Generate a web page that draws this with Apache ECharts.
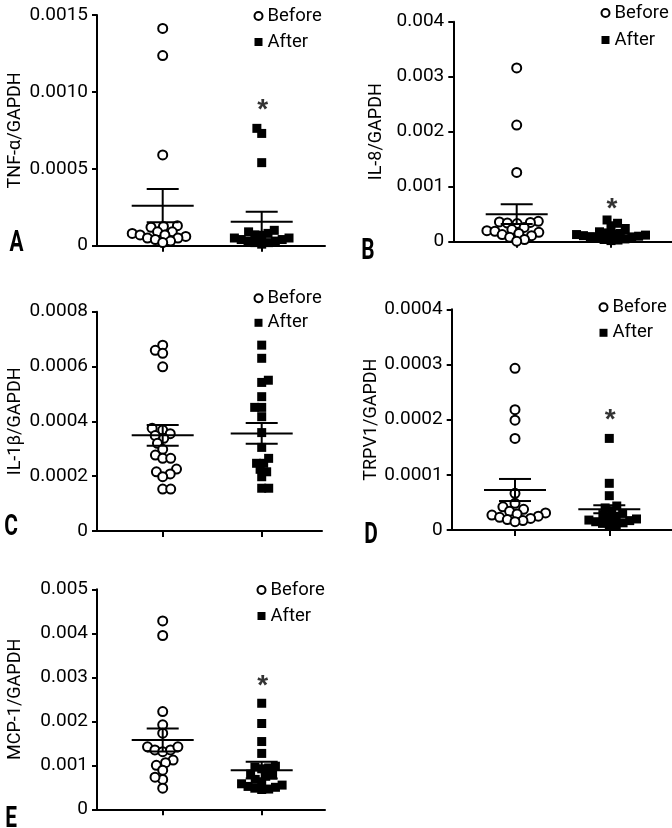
<!DOCTYPE html>
<html>
<head>
<meta charset="utf-8">
<script src="https://cdn.jsdelivr.net/npm/echarts@6/dist/echarts.min.js"></script>
<style>
html,body{margin:0;padding:0;background:#fff;}
#chart{width:672px;height:828px;}
</style>
</head>
<body>
<div id="chart"></div>
<script>
// ---------------- data ----------------
const categories = ['Before', 'After'];
const panelLetters = ['A', 'B', 'C', 'D', 'E'];
const yTitles = ['TNF-α/GAPDH', 'IL-8/GAPDH', 'IL-1β/GAPDH', 'TRPV1/GAPDH', 'MCP-1/GAPDH'];
const yMax = [0.0015, 0.004, 0.0008, 0.0004, 0.005];
const yStep = [0.0005, 0.001, 0.0002, 0.0001, 0.001];
const tickLabelsA = ['0', '0.0005', '0.0010', '0.0015'];
const tickLabelsB = ['0', '0.001', '0.002', '0.003', '0.004'];
const tickLabelsC = ['0', '0.0002', '0.0004', '0.0006', '0.0008'];
const tickLabelsD = ['0', '0.0001', '0.0002', '0.0003', '0.0004'];
const tickLabelsE = ['0', '0.001', '0.002', '0.003', '0.004', '0.005'];

const beforeA = [0.001413, 0.001236, 0.00059, 0.00013, 0.000125, 0.00012, 0.00009, 0.00009, 0.00008, 0.00007, 0.00007, 0.00006, 0.00005, 0.00005, 0.00004, 0.00003, 0.00002];
const afterA = [0.000763, 0.00073, 0.00054, 0.0001, 0.00009, 0.00008, 0.00007, 0.00006, 0.00005, 0.00005, 0.00004, 0.00004, 0.00003, 0.00003, 0.00002, 0.00002, 0.00001];
const beforeB = [0.00316, 0.00212, 0.00126, 0.00037, 0.00036, 0.00035, 0.00034, 0.00033, 0.00026, 0.00022, 0.0002, 0.00019, 0.00017, 0.00015, 0.00013, 0.00011, 0.00008, 0.00004, 0.00001];
const afterB = [0.000395, 0.000335, 0.00029, 0.00024, 0.00018, 0.00016, 0.00015, 0.00014, 0.00013, 0.00012, 0.00011, 0.0001, 0.00009, 0.00008, 0.00006, 0.00005, 0.00004, 0.00003, 0.00002];
const beforeC = [0.000678, 0.000659, 0.000648, 0.000599, 0.000375, 0.000368, 0.000355, 0.000348, 0.000338, 0.00032, 0.000298, 0.000277, 0.000265, 0.000265, 0.000226, 0.000216, 0.000208, 0.000198, 0.000153, 0.000153];
const afterC = [0.000678, 0.00063, 0.00055, 0.000542, 0.00049, 0.000451, 0.000451, 0.000417, 0.000359, 0.000305, 0.000265, 0.000247, 0.000247, 0.000225, 0.000216, 0.000198, 0.000156, 0.000156];
const beforeD = [0.000293, 0.000218, 0.000199, 0.000166, 0.0000665, 0.0000484, 0.000042, 0.0000375, 0.000034, 0.000031, 0.000029, 0.000027, 0.000025, 0.000023, 0.000021, 0.000019, 0.000017, 0.000015];
const afterD = [0.000166, 0.0000846, 0.0000622, 0.0000435, 0.00004, 0.000035, 0.00003, 0.000028, 0.000025, 0.000023, 0.00002, 0.000018, 0.000017, 0.000015, 0.000013, 0.000012, 0.00001, 0.000009];
const beforeE = [0.00428, 0.00395, 0.00222, 0.00192, 0.00173, 0.00142, 0.00135, 0.00131, 0.00135, 0.00142, 0.00112, 0.001, 0.00106, 0.00089, 0.00068, 0.00073, 0.00048];
const afterE = [0.00241, 0.00195, 0.00154, 0.00127, 0.00098, 0.00096, 0.00094, 0.00092, 0.0008, 0.00078, 0.00075, 0.00068, 0.00062, 0.00058, 0.00055, 0.00052, 0.0005, 0.00048, 0.00046, 0.00045];

const meanBefore = [0.00026, 0.0005, 0.000349, 0.0000725, 0.001576];
const semBefore = [0.000108, 0.00018, 0.000038, 0.00002, 0.00026];
const meanAfter = [0.000155, 0.00015, 0.000356, 0.0000375, 0.00089];
const semAfter = [0.000065, 0.00004, 0.000038, 0.0000072, 0.00019];
const sigAfter = [0.00093, 0.00073, null, 0.000214, 0.00297];

// ---------------- layout (styles/positions) ----------------
const tickLabels = [tickLabelsA, tickLabelsB, tickLabelsC, tickLabelsD, tickLabelsE];
const befores = [beforeA, beforeB, beforeC, beforeD, beforeE];
const afters = [afterA, afterB, afterC, afterD, afterE];
const grids = [
  {left: 97, top: 15, width: 228, height: 230.7, c1: 162.7, c2: 261.7, nameGap: 73},
  {left: 453.3, top: 21.7, width: 218.7, height: 220, c1: 516.7, c2: 611, nameGap: 68},
  {left: 97, top: 311.7, width: 225, height: 219.3, c1: 162.7, c2: 261.7, nameGap: 73},
  {left: 451.7, top: 309.3, width: 220.3, height: 220.7, c1: 515, c2: 609.3, nameGap: 69},
  {left: 97, top: 589.3, width: 228, height: 220, c1: 162.7, c2: 261.7, nameGap: 73}
];
const legendPos = [
  {left: 253.5, top: 6, gap: 6},
  {left: 600.5, top: 3, gap: 7},
  {left: 253.5, top: 288.3, gap: 4.5},
  {left: 598.5, top: 297.3, gap: 5.5},
  {left: 256.5, top: 580, gap: 6}
];
const letterPos = [[16.5, 244], [368, 252], [11, 527.5], [371, 535.5], [11, 820]];

const FONT = 'Roboto, "Liberation Sans", sans-serif';
const D_CIRCLE = 8;
const D_SQUARE = 7;

function swarm(values, center, pxPerY, pxPerX, D) {
  const order = values.map((v, i) => i).sort((a, b) => values[a] - values[b]);
  const placed = [];
  const out = new Array(values.length);
  let flip = 1;
  for (const i of order) {
    const y = values[i] * pxPerY;
    const cands = [0];
    for (const p of placed) {
      const dy = Math.abs(p.y - y);
      if (dy < D) {
        const dx = Math.sqrt(D * D - dy * dy);
        cands.push(p.x + dx, p.x - dx);
      }
    }
    cands.sort((a, b) => (Math.abs(a) - Math.abs(b)) || (flip * (a - b)));
    let best = 0;
    for (const c of cands) {
      if (placed.every(p => (p.x - c) * (p.x - c) + (p.y - y) * (p.y - y) >= D * D - 0.01)) { best = c; break; }
    }
    flip = -flip;
    placed.push({x: best, y: y});
    out[i] = [center + best / pxPerX, values[i]];
  }
  return out;
}

const option = {
  animation: false,
  backgroundColor: '#fff',
  grid: [], xAxis: [], yAxis: [], legend: [], series: [], graphic: []
};

grids.forEach((g, k) => {
  const spacing = g.c2 - g.c1;
  const xmin = 1 - (g.c1 - g.left) / spacing;
  const xmax = 2 + (g.left + g.width - g.c2) / spacing;
  option.grid.push({left: g.left, top: g.top, width: g.width, height: g.height, containLabel: false, outerBoundsMode: 'none'});
  option.xAxis.push({
    gridIndex: k, type: 'value', min: xmin, max: xmax,
    axisLine: {show: true, onZero: false, lineStyle: {color: '#000', width: 2}},
    axisTick: {show: true, customValues: [1, 2], length: 6, lineStyle: {color: '#000', width: 2}},
    axisLabel: {show: false},
    splitLine: {show: false}
  });
  const labels = tickLabels[k];
  option.yAxis.push({
    gridIndex: k, type: 'value', min: 0, max: yMax[k], interval: yStep[k],
    name: yTitles[k], nameLocation: 'middle', nameGap: g.nameGap,
    nameTextStyle: {fontFamily: FONT, fontSize: 18, color: '#000'},
    axisLine: {show: true, lineStyle: {color: '#000', width: 2}},
    axisTick: {show: true, length: 5, lineStyle: {color: '#000', width: 2}},
    axisLabel: {
      margin: 9, fontFamily: FONT, fontSize: 19, color: '#000',
      formatter: v => labels[Math.round(v / yStep[k])]
    },
    splitLine: {show: false}
  });
  const lp = legendPos[k];
  option.legend.push({
    left: lp.left, top: lp.top, orient: 'vertical', itemGap: lp.gap,
    itemWidth: 8, itemHeight: 8, padding: 0, selectedMode: false,
    textStyle: {fontFamily: FONT, fontSize: 18.5, color: '#000', lineHeight: 20},
    data: [
      {name: 'Before', icon: 'circle', itemStyle: {color: '#fff', borderColor: '#000', borderWidth: 2}},
      {name: 'After', icon: 'rect', itemStyle: {color: '#000', borderWidth: 0}}
    ]
  });
  const pxPerY = g.height / yMax[k];
  option.series.push({
    name: 'Before', type: 'scatter', xAxisIndex: k, yAxisIndex: k,
    symbol: 'circle', symbolSize: 9,
    itemStyle: {color: '#fff', borderColor: '#000', borderWidth: 2, opacity: 1},
    data: swarm(befores[k], 1, pxPerY, spacing, D_CIRCLE), z: 2
  });
  option.series.push({
    name: 'After', type: 'scatter', xAxisIndex: k, yAxisIndex: k,
    symbol: 'rect', symbolSize: 9,
    itemStyle: {color: '#000', borderWidth: 0, opacity: 1},
    data: swarm(afters[k], 2, pxPerY, spacing, D_SQUARE), z: 2
  });
  option.series.push({
    name: 'Mean ± SEM', type: 'custom', xAxisIndex: k, yAxisIndex: k, z: 5,
    data: [[1, meanBefore[k], semBefore[k]], [2, meanAfter[k], semAfter[k]]],
    renderItem: function (params, api) {
      const x = api.value(0), m = api.value(1), s = api.value(2);
      const pm = api.coord([x, m]);
      const pt = api.coord([x, m + s]);
      const pb = api.coord([x, m - s]);
      const st = {stroke: '#000', lineWidth: 2};
      return {type: 'group', children: [
        {type: 'line', shape: {x1: pm[0] - 31, y1: pm[1], x2: pm[0] + 31, y2: pm[1]}, style: st},
        {type: 'line', shape: {x1: pt[0], y1: pt[1], x2: pb[0], y2: pb[1]}, style: st},
        {type: 'line', shape: {x1: pt[0] - 16, y1: pt[1], x2: pt[0] + 16, y2: pt[1]}, style: st},
        {type: 'line', shape: {x1: pb[0] - 16, y1: pb[1], x2: pb[0] + 16, y2: pb[1]}, style: st}
      ]};
    }
  });
  if (sigAfter[k] !== null) {
    option.series.push({
      name: 'sig', type: 'scatter', xAxisIndex: k, yAxisIndex: k, symbolSize: 0, z: 6,
      data: [[2, sigAfter[k]]],
      label: {show: true, formatter: '*', position: 'inside', offset: [1, 8],
        fontFamily: 'Liberation Sans', fontWeight: 'bold', fontSize: 28, color: '#000'}
    });
  }
  option.graphic.push({
    type: 'text', x: letterPos[k][0], y: letterPos[k][1], scaleX: 0.72,
    style: {text: panelLetters[k], font: 'bold 29px Roboto, "Liberation Sans", sans-serif', fill: '#000',
      align: 'center', verticalAlign: 'middle', textAlign: 'center', textVerticalAlign: 'middle'}
  });
});

const chart = echarts.init(document.getElementById('chart'), null, {renderer: 'canvas'});
chart.setOption(option);
</script>
</body>
</html>
